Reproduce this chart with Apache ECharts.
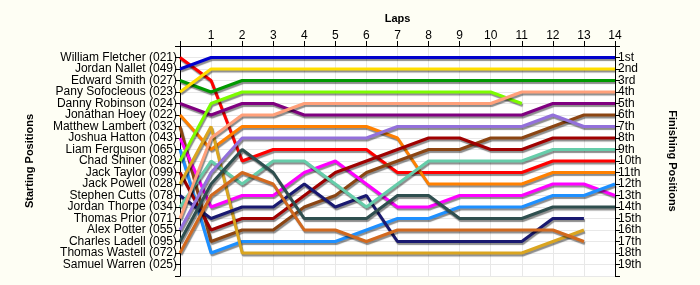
<!DOCTYPE html>
<html>
<head>
<meta charset="utf-8">
<script src="https://cdn.jsdelivr.net/npm/echarts@6/dist/echarts.min.js"></script>
<style>
html,body{margin:0;padding:0;background:#fefef4;}
#chart{width:700px;height:285px;}
</style>
</head>
<body>
<div id="chart"></div>
<script>
// Lap numbers
var laps = [0,1,2,3,4,5,6,7,8,9,10,11,12,13,14];
// Starting grid (position 1..19)
var startNames = ["William Fletcher (021)","Jordan Nallet (049)","Edward Smith (027)","Pany Sofocleous (023)","Danny Robinson (024)","Jonathan Hoey (022)","Matthew Lambert (032)","Joshua Hatton (043)","Liam Ferguson (065)","Chad Shiner (082)","Jack Taylor (099)","Jack Powell (028)","Stephen Cutts (078)","Jordan Thorpe (034)","Thomas Prior (071)","Alex Potter (055)","Charles Ladell (095)","Thomas Wastell (072)","Samuel Warren (025)"];
var finishLabels = ["1st","2nd","3rd","4th","5th","6th","7th","8th","9th","10th","11th","12th","13th","14th","15th","16th","17th","18th","19th"];

// Position per lap (index = lap 0..14), null = not running
var williamFletcher = [1,3,10,9,9,9,9,11,11,11,11,11,10,10,10];
var jordanNallet    = [2,1,1,1,1,1,1,1,1,1,1,1,1,1,1];
var edwardSmith     = [3,4,3,3,3,3,3,3,3,3,3,3,3,3,3];
var panySofocleous  = [4,2,2,2,2,2,2,2,2,2,2,2,2,2,2];
var dannyRobinson   = [5,6,5,5,6,6,6,6,6,6,6,6,5,5,5];
var jonathanHoey    = [6,9,7,7,7,7,7,8,12,12,12,12,11,11,11];
var matthewLambert  = [7,17,16,16,14,13,11,10,9,9,8,8,7,6,6];
var joshuaHatton    = [8,14,13,13,11,10,12,14,14,13,13,13,12,12,13];
var liamFerguson    = [9,18,17,17,17,17,16,15,15,14,14,14,13,13,12];
var chadShiner      = [10,5,4,4,4,4,4,4,4,4,4,5,null,null,null];
var jackTaylor      = [11,16,15,15,13,11,10,9,8,8,9,9,8,8,8];
var jackPowell      = [12,7,18,18,18,18,18,18,18,18,18,18,17,16,null];
var stephenCutts    = [13,15,14,14,12,14,13,17,17,17,17,17,15,15,null];
var jordanThorpe    = [14,10,12,10,10,12,14,12,10,10,10,10,9,9,9];
var thomasPrior     = [15,8,6,6,5,5,5,5,5,5,5,4,4,4,4];
var alexPotter      = [16,11,8,8,8,8,8,7,7,7,7,7,6,7,7];
var charlesLadell   = [17,12,9,11,15,15,15,13,13,15,15,15,14,14,14];
var thomasWastell   = [18,13,11,12,16,16,17,16,16,16,16,16,16,17,null];

var drivers = [
  {d: williamFletcher, c: '#ff0000'},
  {d: jordanNallet,    c: '#0000cd'},
  {d: edwardSmith,     c: '#009900'},
  {d: panySofocleous,  c: '#ffdd00'},
  {d: dannyRobinson,   c: '#800080'},
  {d: jonathanHoey,    c: '#ff8000'},
  {d: matthewLambert,  c: '#8b4513'},
  {d: joshuaHatton,    c: '#ff00ff'},
  {d: liamFerguson,    c: '#1e90ff'},
  {d: chadShiner,      c: '#7cfc00'},
  {d: jackTaylor,      c: '#a00000'},
  {d: jackPowell,      c: '#daa520'},
  {d: stephenCutts,    c: '#191970'},
  {d: jordanThorpe,    c: '#66cdaa'},
  {d: thomasPrior,     c: '#ffa07a'},
  {d: alexPotter,      c: '#9370db'},
  {d: charlesLadell,   c: '#2f4f4f'},
  {d: thomasWastell,   c: '#d2691e'}
];

var series = drivers.map(function(dr, i){
  var pts = [];
  laps.forEach(function(l, k){ if (dr.d[k] != null) pts.push([l, dr.d[k]]); });
  return {
    type: 'line',
    name: startNames[i],
    data: pts,
    symbol: 'none',
    silent: true,
    animation: false,
    z: 3,
    lineStyle: {color: dr.c, width: 3, shadowColor: 'rgba(0,0,0,0.45)', shadowOffsetX: 1, shadowOffsetY: 2, shadowBlur: 1}
  };
});

var fontFam = '"Liberation Sans", Arial, sans-serif';

var chart = echarts.init(document.getElementById('chart'), null, {renderer: 'canvas'});
chart.setOption({
  backgroundColor: '#fefef4',
  animation: false,
  grid: {left: 180, right: 85, top: 46, bottom: 9, backgroundColor: '#ffffff', show: true, borderWidth: 0},
  xAxis: {
    type: 'value', position: 'top', min: 0, max: 14, interval: 1,
    name: 'Laps', nameLocation: 'middle', nameGap: 22,
    nameTextStyle: {fontFamily: fontFam, fontWeight: 'bold', fontSize: 11, color: '#000'},
    axisLine: {show: true, lineStyle: {color: '#000', width: 1}},
    axisTick: {show: true, inside: false, length: 5, lineStyle: {color: '#000'}},
    axisLabel: {fontFamily: fontFam, fontSize: 12, color: '#000', margin: 4,
      formatter: function(v){ return v === 0 ? '' : String(v); }},
    splitLine: {show: true, lineStyle: {color: '#e8e8e8', width: 1}}
  },
  yAxis: [
    {
      type: 'value', inverse: true, min: 0, max: 20, interval: 1, position: 'left',
      name: 'Starting Positions', nameLocation: 'middle', nameGap: 145, nameRotate: 90,
      nameTextStyle: {fontFamily: fontFam, fontWeight: 'bold', fontSize: 11, color: '#000'},
      axisLine: {show: true, lineStyle: {color: '#000'}},
      axisTick: {show: true, length: 5, lineStyle: {color: '#000'}},
      axisLabel: {fontFamily: fontFam, fontSize: 12, color: '#000', margin: 3,
        formatter: function(v){ return (v >= 1 && v <= 19) ? startNames[v-1] : ''; }},
      splitLine: {show: true, lineStyle: {color: '#e8e8e8', width: 1}}
    },
    {
      type: 'value', inverse: true, min: 0, max: 20, interval: 1, position: 'right',
      name: 'Finishing Positions', nameLocation: 'middle', nameGap: 52, nameRotate: -90,
      nameTextStyle: {fontFamily: fontFam, fontWeight: 'bold', fontSize: 11, color: '#000'},
      axisLine: {show: true, lineStyle: {color: '#000'}},
      axisTick: {show: true, length: 5, lineStyle: {color: '#000'}},
      axisLabel: {fontFamily: fontFam, fontSize: 12, color: '#000', margin: 3,
        formatter: function(v){ return (v >= 1 && v <= 19) ? finishLabels[v-1] : ''; }},
      splitLine: {show: false}
    }
  ],
  series: series
});
</script>
</body>
</html>
